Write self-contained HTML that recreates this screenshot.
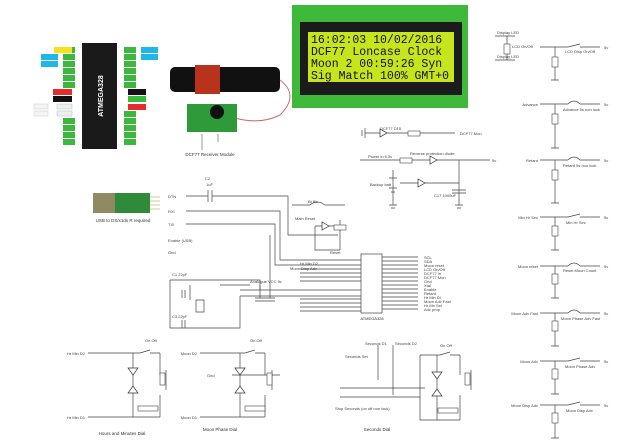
<!DOCTYPE html>
<html><head><meta charset="utf-8"><style>
html,body{margin:0;padding:0;background:#fff;}
svg{display:block;font-family:"Liberation Sans",sans-serif;}
</style></head><body>
<svg width="620" height="446" viewBox="0 0 620 446" xmlns="http://www.w3.org/2000/svg">
<rect width="620" height="446" fill="#fff"/>
<!-- ATMEGA chip -->
<rect x="82" y="43" width="35" height="106" fill="#1a1a1a"/>
<text x="0" y="0" transform="translate(103,96) rotate(-90)" font-size="7" fill="#fff" text-anchor="middle" font-weight="bold">ATMEGA328</text>
<g>
<rect x="63" y="47" width="12" height="6" fill="#3cb83c"/><rect x="63" y="54" width="12" height="6" fill="#3cb83c"/><rect x="63" y="61" width="12" height="6" fill="#3cb83c"/><rect x="63" y="68" width="12" height="6" fill="#3cb83c"/><rect x="63" y="75" width="12" height="6" fill="#3cb83c"/><rect x="63" y="82" width="12" height="6" fill="#3cb83c"/><rect x="63" y="118" width="12" height="6" fill="#3cb83c"/><rect x="63" y="125" width="12" height="6" fill="#3cb83c"/><rect x="63" y="132" width="12" height="6" fill="#3cb83c"/><rect x="63" y="139" width="12" height="6" fill="#3cb83c"/>
<rect x="124" y="47" width="12" height="6" fill="#3cb83c"/><rect x="124" y="54" width="12" height="6" fill="#3cb83c"/><rect x="124" y="61" width="12" height="6" fill="#3cb83c"/><rect x="124" y="68" width="12" height="6" fill="#3cb83c"/><rect x="124" y="75" width="12" height="6" fill="#3cb83c"/><rect x="124" y="82" width="12" height="6" fill="#3cb83c"/><rect x="124" y="111" width="12" height="6" fill="#3cb83c"/><rect x="124" y="118" width="12" height="6" fill="#3cb83c"/><rect x="124" y="125" width="12" height="6" fill="#3cb83c"/><rect x="124" y="132" width="12" height="6" fill="#3cb83c"/><rect x="124" y="139" width="12" height="6" fill="#3cb83c"/>
<rect x="54" y="47" width="18" height="6" fill="#f5e21a"/>
<rect x="41" y="54" width="17" height="6" fill="#1fb6ea"/><rect x="41" y="61" width="17" height="6" fill="#1fb6ea"/>
<rect x="53" y="89" width="19" height="6" fill="#e62b2b"/>
<rect x="53" y="96" width="19" height="6" fill="#111"/>
<rect x="57" y="104" width="15" height="5" fill="#eee" stroke="#bbb" stroke-width=".5"/><rect x="57" y="111" width="15" height="5" fill="#eee" stroke="#bbb" stroke-width=".5"/>
<rect x="34" y="104" width="14" height="5" fill="#f4f4f4" stroke="#ccc" stroke-width=".5"/><rect x="34" y="111" width="14" height="5" fill="#f4f4f4" stroke="#ccc" stroke-width=".5"/>
<rect x="141" y="47" width="17" height="6" fill="#1fb6ea"/><rect x="141" y="54" width="17" height="6" fill="#1fb6ea"/>
<rect x="128" y="89" width="18" height="6" fill="#111"/>
<rect x="128" y="96" width="18" height="6" fill="#3cb83c"/>
<rect x="128" y="104" width="18" height="6" fill="#e62b2b"/>
</g>
<!-- antenna -->
<rect x="170" y="67" width="110" height="25" rx="5" fill="#111"/>
<rect x="195" y="65" width="25" height="29" fill="#b8321c"/>
<path d="M280 80 Q300 95 280 115 Q260 125 235 118" stroke="#c96b6b" fill="none" stroke-width="1"/>
<rect x="187" y="104" width="50" height="28" fill="#2f9a3a"/>
<circle cx="217" cy="112" r="7" fill="#111"/>
<text x="210" y="156" font-size="4.5" text-anchor="middle" fill="#333">DCF77 Receiver Module</text>
<line x1="202" y1="134" x2="202" y2="150" stroke="#555" stroke-width=".6"/>
<line x1="218" y1="134" x2="218" y2="142" stroke="#555" stroke-width=".6"/>
<!-- LCD -->
<rect x="292" y="5" width="176" height="103" fill="#3fb93a"/>
<rect x="300" y="22" width="162" height="73" fill="#1b1b1b"/>
<rect x="308" y="32" width="146" height="50" fill="#c6e51d"/>
<g font-family="'Liberation Mono',monospace" font-size="11.5" fill="#111">
<text x="311" y="43">16:02:03  10/02/2016</text>
<text x="311" y="55">DCF77  Loncase Clock</text>
<text x="311" y="67">Moon 2  00:59:26 Syn</text>
<text x="311" y="79">Sig Match 100% GMT+0</text>
</g>
<!-- USB -->
<rect x="93" y="193" width="22" height="20" fill="#8f8a63"/>
<rect x="115" y="193" width="35" height="20" fill="#2f8a3a"/>
<line x1="150" y1="197" x2="160" y2="197" stroke="#cc9" /><line x1="150" y1="201" x2="160" y2="201" stroke="#cc9"/><line x1="150" y1="205" x2="160" y2="205" stroke="#cc9"/><line x1="150" y1="209" x2="160" y2="209" stroke="#cc9"/>
<text x="123" y="222" font-size="4.5" text-anchor="middle" fill="#333">USB to DX/x1ds R required</text>
<!-- schematic lines -->
<g stroke="#444" stroke-width=".7" fill="none">
<path d="M186 196 H208 M212 196 H288 V235 H338"/>
<path d="M208 190 V202 M212 190 V202"/>
<path d="M186 211 H280 V260 H361"/>
<path d="M186 224 H275 V265 H361"/>
<path d="M232 375 H280 M190 285 V300"/>
<path d="M292 205 H310 M325 205 H345"/>
<path d="M310 205 Q317 199 325 205"/>
<path d="M315 226 H340 M340 220 V250 M315 226 V250 H340"/>
<path d="M170 280 H260 V290 M170 280 V328 M240 290 H361 M240 296 H361 M240 296 V328 H170"/>
<path d="M220 285 H250 M260 285 V298 M270 235 V298"/>
<path d="M255 298 H265 M255 301 H265 M265 298 H275 M265 301 H275"/>
<path d="M182 290 V298 M185 290 V298 M182 320 V328 M185 320 V328"/>
<path d="M196 300 H204 V312 H196 Z"/>
<path d="M300 269 H361 M300 273 H361 M300 277 H361 M300 281 H361 M300 299 H361 M300 303 H361 M300 307 H361 M300 311 H361"/>
<path d="M382 257 H418 M382 261 H418 M382 265 H418 M382 269 H418 M382 273 H418 M382 277 H418 M382 281 H418 M382 285 H418 M382 289 H418 M382 293 H418 M382 297 H418 M382 301 H418 M382 305 H418 M382 309 H418"/>
<path d="M365 133 H455 M360 160 H490 M459 160 V205 M400 183 H459 M393 170 V205"/>
<path d="M452 190 H466 M452 193 H466"/>
<path d="M389 178 H397 M389 188 H397 M391 192 H395"/>
<path d="M455 205 H463 M457 208 H461 M389 205 H397 M391 208 H395"/>
<path d="M365 128 V138 M362 130 V136"/>
</g>
<g fill="#fff" stroke="#444" stroke-width=".6">
<rect x="408" y="131" width="12" height="5"/><rect x="400" y="158" width="12" height="5"/>
<rect x="334" y="225" width="12" height="5"/>
</g>
<g fill="#fff" stroke="#333" stroke-width=".7">
<path d="M380 129 L380 137 L387 133 Z"/><path d="M430 156 L430 164 L437 160 Z"/><path d="M418 179 L418 187 L425 183 Z"/><path d="M322 222 L322 230 L329 226 Z"/>
</g>
<rect x="361" y="254" width="21" height="59" fill="#fff" stroke="#444" stroke-width=".7"/>
<text x="372" y="320" font-size="4" text-anchor="middle" fill="#333">ATMEGA328</text>
<g font-size="4" fill="#444">
<text x="424" y="259">SCL</text><text x="424" y="263">SDA</text><text x="424" y="267">Moon reset</text><text x="424" y="271">LCD On/Off</text><text x="424" y="275">DCF77 In</text><text x="424" y="279">DCF77 Mon</text><text x="424" y="283">Gnd</text><text x="424" y="287">Xtal</text><text x="424" y="291">Enable</text><text x="424" y="295">Retard</text><text x="424" y="299">Hr Min Dl</text><text x="424" y="303">Moon Adv Fast</text><text x="424" y="307">Hr Mn Set</text><text x="424" y="311">Adv prop</text>
<text x="168" y="198">DTN</text><text x="168" y="213">RXI</text><text x="168" y="226">TXI</text><text x="168" y="242">Enable (USB)</text><text x="168" y="254">Gnd</text>
<text x="205" y="180">C2</text><text x="206" y="186">1uF</text><text x="300" y="265">Hr Min D2</text><text x="290" y="270">Moon Disp Adv</text>
<text x="380" y="130">DCF77 D15</text><text x="460" y="135">DCF77 Mon</text><text x="368" y="158">Power in 5.5v</text><text x="410" y="155">Reverse protection diode</text><text x="492" y="162">5v</text>
<text x="370" y="186">Backup batt</text><text x="434" y="197">C17 1000uF</text><text x="308" y="203">Bt Bb</text><text x="295" y="220">Main Reset</text><text x="330" y="254">Reset</text>
<text x="172" y="276">C1 22pF</text><text x="172" y="318">C3 22pF</text><text x="250" y="283">Analogue VCC 5v</text><text x="207" y="377">Gnd</text>
</g>
<!-- right column -->
<g stroke="#444" stroke-width=".7" fill="none">
<path d="M555 47 V80 M540 47 H568 M580 47 H600 M555 104 V148 M540 104 H568 M580 104 H600 M555 160 V203 M540 160 H568 M580 160 H600 M555 217 V250 M540 217 H568 M580 217 H600 M555 266 V298 M540 266 H568 M580 266 H600 M555 313 V346 M540 313 H568 M580 313 H600 M555 361 V394 M540 361 H568 M580 361 H600 M555 405 V438 M540 405 H568 M580 405 H600"/>
<path d="M568 47 L580 44 M568 104 Q574 98 580 104 M568 160 Q574 154 580 160 M568 217 L580 214 M568 266 Q574 260 580 266 M568 313 Q574 307 580 313 M568 361 L580 358 M568 405 L580 402"/>
<path d="M551 80 H559 M551 148 H559 M551 203 H559 M551 250 H559 M551 298 H559 M551 346 H559 M551 394 H559 M551 438 H559"/>
<path d="M507 36 V60 M495 36 H515 M495 60 H515"/>
</g>
<g fill="#fff" stroke="#444" stroke-width=".6">
<rect x="552" y="57" width="6" height="10"/><rect x="552" y="114" width="6" height="10"/><rect x="552" y="170" width="6" height="10"/><rect x="552" y="226" width="6" height="10"/><rect x="552" y="274" width="6" height="10"/><rect x="552" y="321" width="6" height="10"/><rect x="552" y="369" width="6" height="10"/><rect x="552" y="413" width="6" height="10"/><rect x="504" y="44" width="6" height="10"/>
</g>
<g font-size="4" fill="#444">
<text x="538" y="106" text-anchor="end">Advance</text><text x="538" y="162" text-anchor="end">Retard</text><text x="538" y="219" text-anchor="end">Min Hr Sec</text><text x="538" y="268" text-anchor="end">Moon reset</text><text x="538" y="315" text-anchor="end">Moon Adv Fast</text><text x="538" y="363" text-anchor="end">Moon Adv</text><text x="538" y="407" text-anchor="end">Moon Disp Adv</text>
<text x="512" y="48">LCD On/Off</text><text x="497" y="34">Display LED</text><text x="497" y="58">Display LED</text>
<text x="565" y="53">LCD Disp On/Off</text><text x="563" y="111">Advance 5s non lock</text><text x="563" y="167">Retard 5s non lock</text><text x="566" y="224">Min Hr Sec</text><text x="563" y="272">Reset Moon Count</text><text x="561" y="320">Moon Phase Adv Fast</text><text x="565" y="368">Moon Phase Adv</text><text x="566" y="412">Moon Disp Adv</text>
<text x="604" y="49">5v</text><text x="604" y="106">5v</text><text x="604" y="162">5v</text><text x="604" y="219">5v</text><text x="604" y="268">5v</text><text x="604" y="315">5v</text><text x="604" y="363">5v</text><text x="604" y="407">5v</text>
</g>
<!-- bottom dials -->
<g stroke="#444" stroke-width=".7" fill="none">
<path d="M88 353 H140 M150 350 L140 353 M150 353 H160 M88 417 H160 M133 353 V417 M160 353 V375 M160 395 V417"/>
<path d="M200 353 H245 M255 350 L245 353 M255 353 H265 M200 417 H265 M240 353 V417 M265 353 V375 M265 395 V417"/>
<path d="M340 388 H425 M340 397 H420 M378 345 V380 M393 345 V395 M420 355 H440 M450 352 L440 355 M450 355 H460 M420 355 V420 H460 M460 355 V375 M460 395 V420 M437 355 V420"/>
<path d="M166 370 V390 M272 370 V390 M471 370 V390"/>
</g>
<g fill="#fff" stroke="#333" stroke-width=".7">
<path d="M128 368 H138 L133 375 Z"/><path d="M128 393 H138 L133 386 Z"/>
<path d="M235 368 H245 L240 375 Z"/><path d="M235 393 H245 L240 386 Z"/>
<path d="M432 372 H442 L437 379 Z"/><path d="M432 396 H442 L437 389 Z"/>
</g>
<g fill="#fff" stroke="#444" stroke-width=".6">
<rect x="138" y="406" width="20" height="5"/><rect x="245" y="406" width="20" height="5"/><rect x="438" y="408" width="20" height="5"/>
<rect x="160" y="373" width="5" height="12"/><rect x="267" y="373" width="5" height="12"/><rect x="465" y="373" width="5" height="12"/>
</g>
<g font-size="4.5" fill="#333" text-anchor="middle">
<text x="122" y="435">Hours and Minutes Dial</text><text x="220" y="431">Moon Phase Dial</text><text x="377" y="431">Seconds Dial</text>
</g>
<g font-size="4" fill="#444">
<text x="85" y="355" text-anchor="end">Hr Min D2</text><text x="85" y="419" text-anchor="end">Hr Min D1</text>
<text x="197" y="355" text-anchor="end">Moon D2</text><text x="197" y="419" text-anchor="end">Moon D1</text>
<text x="365" y="345">Seconds D1</text><text x="395" y="345">Seconds D2</text><text x="345" y="358">Seconds Set</text>
<text x="335" y="410">Stop Seconds (on off non lock)</text>
<text x="145" y="342">On Off</text><text x="250" y="342">On Off</text><text x="440" y="347">On Off</text>
</g>
</svg>
</body></html>
